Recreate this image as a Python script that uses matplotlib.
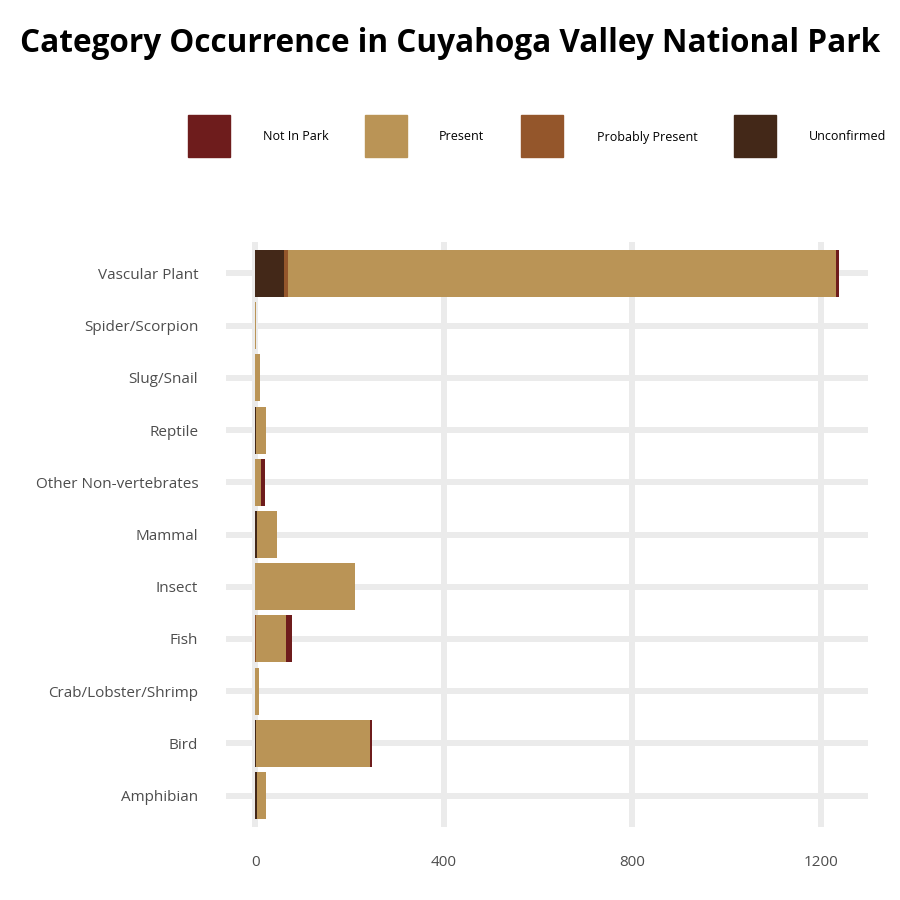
import matplotlib
matplotlib.use("Agg")
import matplotlib.pyplot as plt
from matplotlib.patches import Rectangle
import numpy as np

plt.rcParams['font.family'] = ['Open Sans', 'DejaVu Sans']

categories = ["Amphibian", "Bird", "Crab/Lobster/Shrimp", "Fish", "Insect", "Mammal",
              "Other Non-vertebrates", "Reptile", "Slug/Snail", "Spider/Scorpion", "Vascular Plant"]
# stacked left to right: Unconfirmed, Probably Present, Present, Not In Park
unconfirmed      = [3, 1, 0, 0, 0, 3, 0, 1, 0, 0, 61]
probably_present = [0, 0, 0, 1, 0, 0, 0, 1, 0, 0, 8]
present          = [20, 242, 8, 64, 211, 43, 12, 21, 10, 1, 1163]
not_in_park      = [1, 4, 0, 13, 0, 0, 8, 1, 0, 0, 6]

legend_labels = ["Not In Park", "Present", "Probably Present", "Unconfirmed"]
colors = {"Not In Park": "#6E1C1C", "Present": "#BA9456",
          "Probably Present": "#94562B", "Unconfirmed": "#432818"}
xticks = [0, 400, 800, 1200]

fig = plt.figure(figsize=(9, 9), dpi=100)
ax = fig.add_axes([226/900, 1-827/900, (868-226)/900, (827-242)/900])

y = np.arange(1, len(categories)+1)
series = [("Unconfirmed", unconfirmed), ("Probably Present", probably_present),
          ("Present", present), ("Not In Park", not_in_park)]
left = np.zeros(len(categories))
for name, vals in series:
    vals = np.array(vals, dtype=float)
    ax.barh(y, vals, left=left, height=0.9, color=colors[name], linewidth=0, zorder=3)
    left += vals

total_max = left.max()
pad = total_max * 0.05
ax.set_xlim(-pad, total_max + pad)
ax.set_ylim(0.4, len(categories) + 0.6)
ax.set_yticks(y)
ax.set_yticklabels(categories)
ax.set_xticks(xticks)
ax.set_xticklabels([str(t) for t in xticks])
for s in ax.spines.values():
    s.set_visible(False)
ax.tick_params(length=0, colors="#4D4D4D", labelsize=11)
ax.tick_params(axis='y', pad=20)
ax.tick_params(axis='x', pad=20)
ax.grid(True, color="#EBEBEB", linewidth=4.3, zorder=0)
ax.set_axisbelow(True)

fig.text(0.5, 1-43/900, "Category Occurrence in Cuyahoga Valley National Park",
         ha="center", va="center", fontsize=22.7, fontweight="bold", color="black")

patch_x = [188, 365, 521, 734]
label_x = [263, 439, 597, 809]
for name, px, lx in zip(legend_labels, patch_x, label_x):
    fig.add_artist(Rectangle((px/900, 1-157/900), 42/900, 42/900,
                             transform=fig.transFigure, color=colors[name]))
    fig.text(lx/900, 1-137/900, name, ha="left", va="center", fontsize=9, color="black")

fig.savefig("out.png", dpi=100)
